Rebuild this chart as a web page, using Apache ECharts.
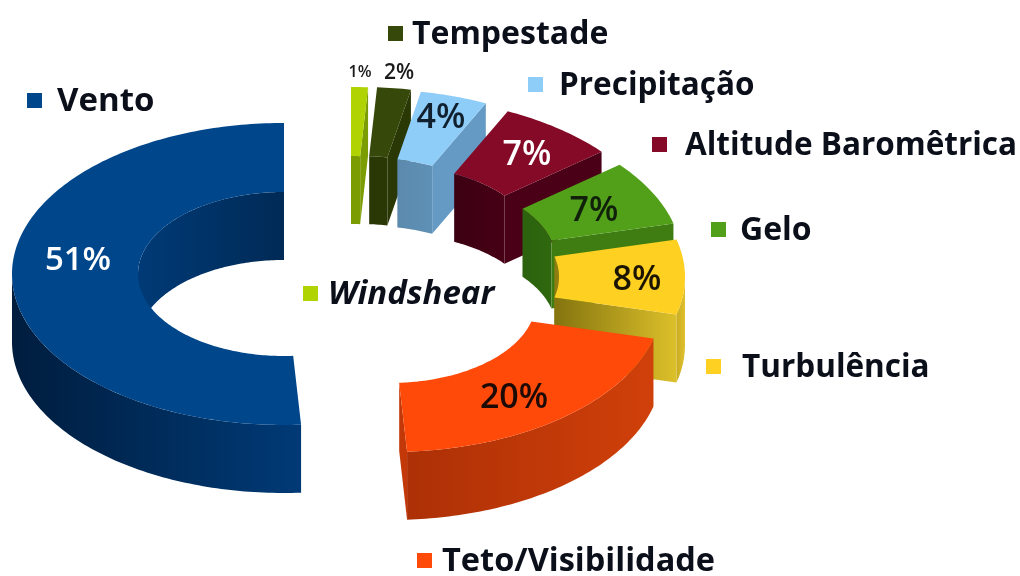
<!DOCTYPE html>
<html>
<head>
<meta charset="utf-8">
<style>
  html, body { margin: 0; padding: 0; background: #fff; }
  #chart { width: 1020px; height: 576px; filter: blur(0.6px); }
</style>
<script src="https://cdn.jsdelivr.net/npm/echarts@6/dist/echarts.min.js"></script>
</head>
<body>
<div id="chart"></div>
<script>
const categories = ['Windshear', 'Tempestade', 'Precipitação', 'Altitude Baromêtrica', 'Gelo', 'Turbulência', 'Teto/Visibilidade', 'Vento']
const shares = [1, 2, 4, 7, 7, 8, 20, 51]

// colours per slice: top face, then walls as [left, right] gradient
const faceColors = ['#b0d304', '#36480a', '#8fcdf9', '#840a28', '#52a01a', '#fdd021', '#ff4a0a', '#00468b']
const innerWalls = [['#7c9c03', '#7c9c03'], ['#2a3806', '#2a3806'], ['#5b8aad', '#5f90b5'], ['#3c0012', '#470016'], ['#2c620e', '#2f680f'], ['#8f7d12', '#8f7d12'], ['#b23206', '#b23206'], ['#003a76', '#002a56']]
const outerWalls = [['#7c9c03', '#7c9c03'], ['#2a3806', '#2a3806'], ['#5b8aad', '#5b8aad'], ['#3c0012', '#3c0012'], ['#2c620e', '#2c620e'], ['#c9ab22', '#e0c22e'], ['#ad3006', '#d0400a'], ['#001d3e', '#003a76']]
const endWalls = [['#7c9c03', '#7c9c03'], ['#2a3806', '#2a3806'], ['#659ac4', '#659ac4'], ['#4a0016', '#4a0016'], ['#3f7d12', '#3f7d12'], ['#84740f', '#dcc02a'], ['#c23808', '#c23808'], ['#003a76', '#003a76']]

// exploded offset of each slice
const explodeX = [67, 76, 86, 108, 126, 129, 106, 0]
const explodeY = [-36, -36, -34, -26, -13, 3, 27, 0]

// percent labels
const labelX = [360, 399, 441, 527, 594, 637, 514, 78]
const labelY = [72, 73, 118, 155, 211, 280, 398, 261]
const labelSize = [16, 21, 34, 34, 34, 34, 34, 33]
const labelColors = ['#1a1a1a', '#1a1a1a', '#10202e', '#fff', '#10200a', '#1a1400', '#1e0a04', '#fff']

// legend
const legendX = [303, 388, 528, 652, 711, 706, 417, 27]
const legendY = [286, 26, 77, 137, 222, 359, 553, 93]
const legendTextX = [328, 412, 559, 685, 740, 742, 442, 57]
const legendSize = [33, 32, 31.5, 31.5, 32, 31.5, 32.5, 33]

const cx = 284
const cy = 274
const outerRx = 272
const outerRy = 151
const innerRx = 146
const innerRy = 82
const depth = 68
const fontFamily = '"Open Sans", sans-serif'

function point(deg, rx, ry, ox, oy) {
  const a = deg * Math.PI / 180
  return [cx + ox + rx * Math.sin(a), cy + oy - ry * Math.cos(a)]
}

function arc(from, to, rx, ry, ox, oy) {
  const pts = []
  const steps = Math.max(2, Math.ceil(Math.abs(to - from)))
  for (let i = 0; i <= steps; i++) {
    pts.push(point(from + (to - from) * i / steps, rx, ry, ox, oy))
  }
  return pts
}

function wallFill(c) {
  return new echarts.graphic.LinearGradient(0, 0, 1, 0, [
    { offset: 0, color: c[0] },
    { offset: 1, color: c[1] }
  ])
}

// curved wall between two angles, extruded downward
function curvedWall(from, to, rx, ry, ox, oy, colors) {
  const top = arc(from, to, rx, ry, ox, oy)
  const bottom = top.map(p => [p[0], p[1] + depth]).reverse()
  return { type: 'polygon', shape: { points: top.concat(bottom) }, style: { fill: wallFill(colors) } }
}

function renderSlice(params, api) {
  const i = params.dataIndex
  const total = shares.reduce((a, b) => a + b, 0)
  let before = 0
  for (let k = 0; k < i; k++) before += shares[k]
  const start = before / total * 360
  const end = (before + api.value(0)) / total * 360
  const ox = explodeX[i]
  const oy = explodeY[i]
  const children = []

  // inner wall shows on the back half, outer wall on the front half
  const backA = [start, Math.min(end, 90)]
  const backB = [Math.max(start, 270), end]
  if (backA[1] > backA[0]) children.push(curvedWall(backA[0], backA[1], innerRx, innerRy, ox, oy, innerWalls[i]))
  if (backB[1] > backB[0]) children.push(curvedWall(backB[0], backB[1], innerRx, innerRy, ox, oy, innerWalls[i]))
  const frontFrom = Math.max(start, 90)
  const frontTo = Math.min(end, 270)
  if (frontTo > frontFrom) children.push(curvedWall(frontFrom, frontTo, outerRx, outerRy, ox, oy, outerWalls[i]))

  // cut face at the clockwise end of the slice
  if (end < 180) {
    const a = point(end, innerRx, innerRy, ox, oy)
    const b = point(end, outerRx, outerRy, ox, oy)
    children.push({
      type: 'polygon',
      shape: { points: [a, b, [b[0], b[1] + depth], [a[0], a[1] + depth]] },
      style: { fill: wallFill(endWalls[i]) }
    })
  }

  // top face
  children.push({
    type: 'polygon',
    shape: { points: arc(start, end, outerRx, outerRy, ox, oy).concat(arc(end, start, innerRx, innerRy, ox, oy)) },
    style: { fill: faceColors[i] }
  })

  children.push({
    type: 'text',
    style: {
      text: api.value(0) + '%',
      x: labelX[i],
      y: labelY[i],
      align: 'center',
      verticalAlign: 'middle',
      fill: labelColors[i],
      font: '600 ' + labelSize[i] + 'px ' + fontFamily
    }
  })
  return { type: 'group', children: children }
}

const legendMarks = categories.map((name, i) => ({
  type: 'rect',
  shape: { x: legendX[i], y: legendY[i], width: 15, height: 15 },
  style: { fill: faceColors[i] }
}))
const legendTexts = categories.map((name, i) => ({
  type: 'text',
  style: {
    text: name,
    x: legendTextX[i],
    y: legendY[i] + 9,
    verticalAlign: 'middle',
    fill: '#0b0f1a',
    font: (name === 'Windshear' ? 'italic ' : '') + '700 ' + legendSize[i] + 'px ' + fontFamily
  }
}))

const chart = echarts.init(document.getElementById('chart'))
chart.setOption({
  animation: false,
  backgroundColor: '#fff',
  graphic: legendMarks.concat(legendTexts),
  series: [{
    type: 'custom',
    coordinateSystem: 'none',
    renderItem: renderSlice,
    data: shares.map(v => [v])
  }]
})
</script>
</body>
</html>
